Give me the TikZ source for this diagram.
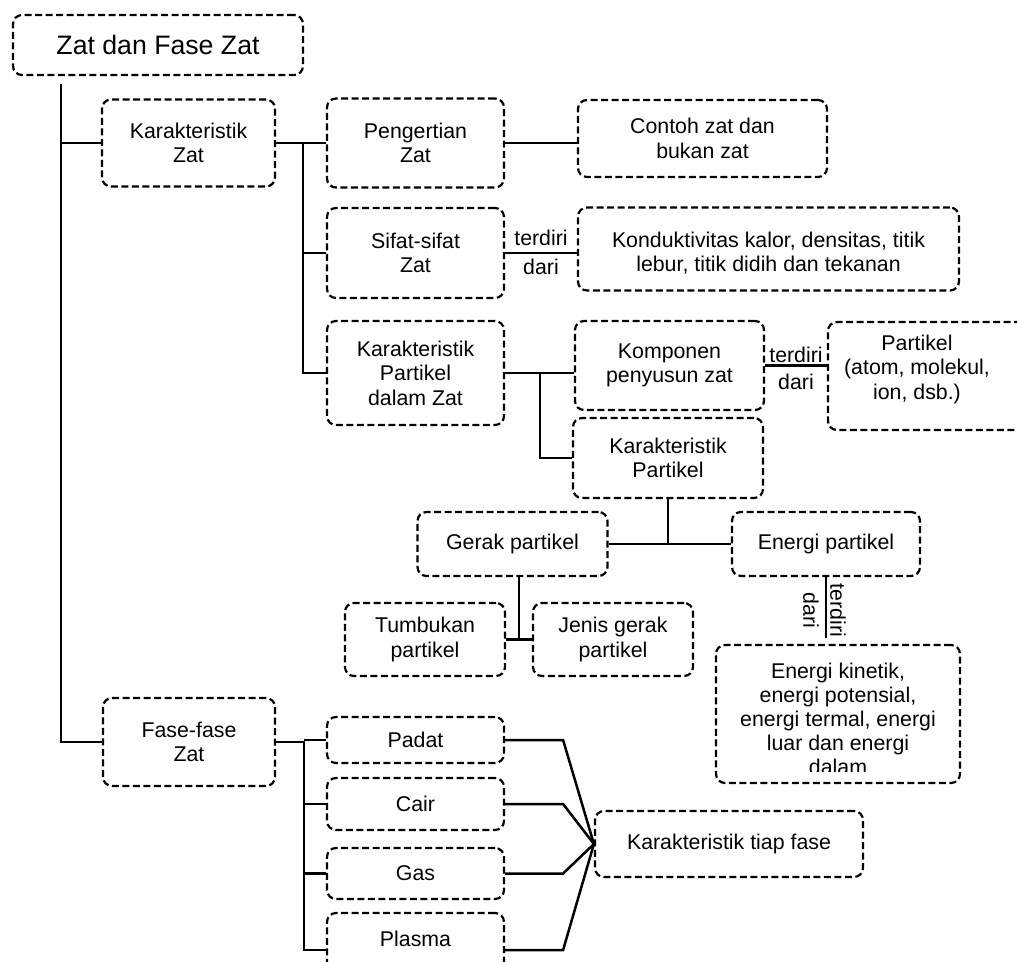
\documentclass[tikz,border=0pt]{standalone}
\usepackage{fontspec}
\setmainfont{Liberation Sans}
\usetikzlibrary{calc}
\newcommand\cmbody{\fontsize{21.33}{24.5}\selectfont}
\newcommand\cmtitle{\fontsize{26.67}{32}\selectfont}
\newcommand\cmlist{\fontsize{21.33}{24}\selectfont}
\begin{document}
\begin{tikzpicture}[x=1pt,y=-1pt,
  box/.style={draw, line width=2.2pt, dash pattern=on 7pt off 3.5pt,
    rounded corners=9pt, align=center, inner sep=0pt, font=\cmbody},
  sz/.style 2 args={minimum width=#1pt, minimum height=#2pt},
  conn/.style={line width=2.5pt},
  lbl/.style={font=\cmbody, align=center}]
\useasboundingbox (0,0) rectangle (1017,961);
\clip (0,0) rectangle (1017,961);

% boxes
\node[box, sz={290}{60}, font=\cmtitle] (root) at (158,45) {Zat dan Fase Zat};
\node[box, sz={173}{87}] (kz) at (188.5,143) {Karakteristik\\Zat};
\node[box, sz={177}{89}] (pz) at (415.5,143) {Pengertian\\Zat};
\node[box, sz={249}{77}] (contoh) at (702.5,138.5) {Contoh zat dan\\bukan zat};
\node[box, sz={177}{90}] (sifat) at (415.5,253) {Sifat-sifat\\Zat};
\node[box, sz={381}{83}, label={[lbl, yshift=-4pt]center:Konduktivitas kalor, densitas, titik\\lebur, titik didih dan tekanan}] (kond) at (768.5,249) {};
\node[box, sz={177}{104}] (kpdz) at (415.5,373) {Karakteristik\\Partikel\\dalam Zat};
\node[box, sz={189}{89}] (komp) at (669.5,365.5) {Komponen\\penyusun zat};
\node[box, sz={202}{108}, label={[lbl, xshift=-12pt, yshift=7pt]center:Partikel\\(atom, molekul,\\ion, dsb.)}] (ptk) at (929,376) {};
\node[box, sz={190}{80}] (kp) at (668,458) {Karakteristik\\Partikel};
\node[box, sz={190}{64}] (gerak) at (512.5,544) {Gerak partikel};
\node[box, sz={188}{64}] (energi) at (826,544) {Energi partikel};
\node[box, sz={160}{73}] (tumb) at (425,639.5) {Tumbukan\\partikel};
\node[box, sz={160}{73}] (jenis) at (613,639.5) {Jenis gerak\\partikel};
\node[box, sz={244}{138}] (ek) at (838,714) {};
\begin{scope}
  \clip (716,645) rectangle (960,771);
  \node[lbl, font=\cmlist, anchor=north, inner sep=0pt] (ektext) at (838,663)
    {Energi kinetik,\\energi potensial,\\energi termal, energi\\luar dan energi\\dalam};
\end{scope}
\node[box, sz={172}{88}] (fase) at (189,742) {Fase-fase\\Zat};
\node[box, sz={177}{46}] (padat) at (415.5,740) {Padat};
\node[box, sz={177}{52}] (cair) at (415.5,804) {Cair};
\node[box, sz={177}{51}] (gas) at (415.5,873.5) {Gas};
\node[box, sz={177}{74}, label={[lbl, yshift=11pt]center:Plasma}] (plasma) at (415.5,950) {};
\node[box, sz={268}{66}] (tiap) at (729,844) {Karakteristik tiap fase};

% main trunk
\coordinate (t0) at ($(root.south west)+(49,0)$);
\draw[conn, shorten <=8pt] (t0) |- (fase.west);
\draw[conn] (t0 |- kz.west) -- (kz.west);

% Karakteristik Zat branch
\coordinate (b1) at ($(kz.east)+(27,0)$);
\draw[conn] (kz.east) -- (pz.west);
\draw[conn] (b1) |- (sifat.west);
\draw[conn] (b1) |- (kpdz.west);
\draw[conn] (pz.east) -- (pz.east -| contoh.west);
\draw[conn] (sifat.east) -- (sifat.east -| kond.west)
  node[midway, above, lbl, inner sep=6pt] {terdiri}
  node[midway, below, lbl, inner sep=5pt] {dari};
\draw[conn] (kpdz.east) -- (kpdz.east -| komp.west);
\coordinate (b2) at ($(kpdz.east)+(35,0)$);
\draw[conn] (b2) |- (kp.west);
\draw[conn] (komp.east) -- (komp.east -| ptk.west)
  node[midway, above, lbl, inner sep=1.5pt] {terdiri}
  node[midway, below, lbl, inner sep=7pt] {dari};
\draw[conn] (kp.south) -- (kp.south |- gerak.east);
\draw[conn] (gerak.east) -- (energi.west);
\coordinate (m1) at ($(tumb.east)!0.5!(jenis.west)$);
\draw[conn] (gerak.south -| m1) -- (m1);
\draw[conn] (tumb.east) -- (jenis.west);
\draw[conn, shorten >=6pt] (energi.south) -- (energi.south |- ek.north)
  node[midway, rotate=-90, anchor=south, lbl, inner sep=3pt] {terdiri}
  node[midway, rotate=-90, anchor=north, lbl, inner sep=6pt] {dari};

% Fase-fase Zat branch
\coordinate (b3) at ($(fase.east)+(28,0)$);
\draw[conn] (fase.east) -- (b3) |- (plasma.west);
\foreach \n in {padat,cair,gas} \draw[conn] (b3 |- \n.west) -- (\n.west);
\foreach \n in {padat,cair,gas,plasma} \draw[conn] (\n.east) -- ++(58,0) -- (tiap.west);
\end{tikzpicture}
\end{document}
